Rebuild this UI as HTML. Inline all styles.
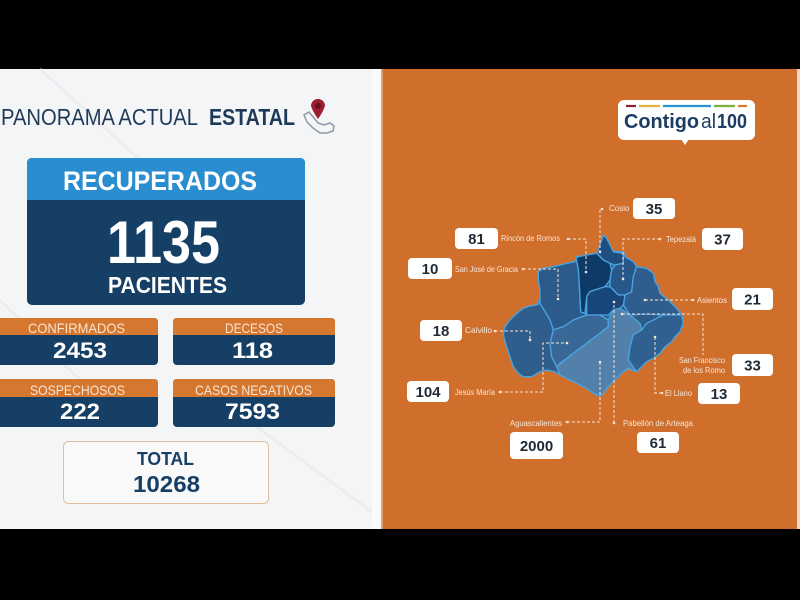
<!DOCTYPE html>
<html><head><meta charset="utf-8"><style>
html,body{margin:0;padding:0;background:#000;}
svg{display:block;}
text{font-family:"Liberation Sans",sans-serif;}
</style></head><body>
<svg width="800" height="600" viewBox="0 0 800 600" xmlns="http://www.w3.org/2000/svg">
<rect x="0" y="0" width="800" height="600" fill="#000"/>
<!-- left panel -->
<rect x="0" y="69" width="383" height="460" fill="#f4f5f7"/>
<g stroke="#e6e8eb" stroke-width="3" opacity="0.6">
<line x1="40" y1="69" x2="140" y2="160"/>
<line x1="0" y1="300" x2="120" y2="420"/>
<line x1="220" y1="400" x2="383" y2="520"/>
</g>
<rect x="372" y="69" width="9" height="460" fill="#fafafb"/>
<rect x="381" y="69" width="2" height="460" fill="#e3a06a"/>
<!-- right panel -->
<rect x="383" y="69" width="414" height="460" fill="#d06f2c"/>
<rect x="797" y="69" width="3" height="460" fill="#e9d9c8"/>

<!-- title -->
<text x="1" y="125" font-size="23" fill="#1f3a58" textLength="197" lengthAdjust="spacingAndGlyphs">PANORAMA ACTUAL</text>
<text x="209" y="125" font-size="23" font-weight="bold" fill="#1f3a58" textLength="86" lengthAdjust="spacingAndGlyphs">ESTATAL</text>
<!-- pin icon -->
<path d="M304,115 L309,112 L314,118 L318,123 L324,125 L330,123 L334,126 L333,131 L327,133 L320,133 L313,128 L307,122 Z" fill="none" stroke="#8c99a6" stroke-width="1.5"/>
<path d="M311,106 A7,7 0 1 1 325,106 Q323,112 318,119 Q313,112 311,106 Z" fill="#9b1f2f"/>
<circle cx="318" cy="106" r="3" fill="#6a0f1d"/>

<!-- RECUPERADOS -->
<rect x="27" y="158" width="278" height="147" rx="5" fill="#163f66"/>
<path d="M27,200 L27,163 Q27,158 32,158 L300,158 Q305,158 305,163 L305,200 Z" fill="#2a8dcf"/>
<text x="63" y="190" font-size="27" font-weight="bold" fill="#fff" textLength="194" lengthAdjust="spacingAndGlyphs">RECUPERADOS</text>
<text x="107" y="263" font-size="60" font-weight="bold" fill="#fff" textLength="113" lengthAdjust="spacingAndGlyphs">1135</text>
<text x="108" y="293" font-size="23" font-weight="bold" fill="#fff" textLength="119" lengthAdjust="spacingAndGlyphs">PACIENTES</text>

<!-- small boxes -->
<g>
<rect x="-5" y="318" width="163" height="47" rx="4" fill="#163f66"/>
<path d="M-5,335 L-5,322 Q-5,318 -1,318 L154,318 Q158,318 158,322 L158,335 Z" fill="#d5772f"/>
<text x="28" y="333" font-size="14" fill="#f8e4d2" textLength="97" lengthAdjust="spacingAndGlyphs">CONFIRMADOS</text>
<text x="53" y="358" font-size="22" font-weight="bold" fill="#fff" textLength="54" lengthAdjust="spacingAndGlyphs">2453</text>

<rect x="173" y="318" width="162" height="47" rx="4" fill="#163f66"/>
<path d="M173,335 L173,322 Q173,318 177,318 L331,318 Q335,318 335,322 L335,335 Z" fill="#d5772f"/>
<text x="225" y="333" font-size="14" fill="#f8e4d2" textLength="58" lengthAdjust="spacingAndGlyphs">DECESOS</text>
<text x="232" y="358" font-size="22" font-weight="bold" fill="#fff" textLength="41" lengthAdjust="spacingAndGlyphs">118</text>

<rect x="-5" y="379" width="163" height="48" rx="4" fill="#163f66"/>
<path d="M-5,397 L-5,383 Q-5,379 -1,379 L154,379 Q158,379 158,383 L158,397 Z" fill="#d5772f"/>
<text x="30" y="395" font-size="14" fill="#f8e4d2" textLength="95" lengthAdjust="spacingAndGlyphs">SOSPECHOSOS</text>
<text x="60" y="419" font-size="22" font-weight="bold" fill="#fff" textLength="40" lengthAdjust="spacingAndGlyphs">222</text>

<rect x="173" y="379" width="162" height="48" rx="4" fill="#163f66"/>
<path d="M173,397 L173,383 Q173,379 177,379 L331,379 Q335,379 335,383 L335,397 Z" fill="#d5772f"/>
<text x="195" y="395" font-size="14" fill="#f8e4d2" textLength="117" lengthAdjust="spacingAndGlyphs">CASOS NEGATIVOS</text>
<text x="225" y="419" font-size="22" font-weight="bold" fill="#fff" textLength="55" lengthAdjust="spacingAndGlyphs">7593</text>
</g>

<!-- TOTAL -->
<rect x="63.5" y="441.5" width="205" height="62" rx="5" fill="#f9f9fa" stroke="#e2bf9c" stroke-width="1"/>
<text x="137" y="465" font-size="18" font-weight="bold" fill="#163f66" textLength="57" lengthAdjust="spacingAndGlyphs">TOTAL</text>
<text x="133" y="492" font-size="23" font-weight="bold" fill="#163f66" textLength="67" lengthAdjust="spacingAndGlyphs">10268</text>

<!-- Contigo badge -->
<rect x="618" y="100" width="137" height="40" rx="6" fill="#fff"/>
<path d="M681,139 L689,139 L685,145 Z" fill="#fff"/>
<g stroke-width="2.2">
<line x1="626" y1="106" x2="636" y2="106" stroke="#8e2230"/>
<line x1="639" y1="106" x2="660" y2="106" stroke="#e0b43c"/>
<line x1="663" y1="106" x2="711" y2="106" stroke="#2b95d3"/>
<line x1="714" y1="106" x2="735" y2="106" stroke="#7ab03e"/>
<line x1="738" y1="106" x2="747" y2="106" stroke="#d9772f"/>
</g>
<text x="624" y="128" font-size="20" font-weight="bold" fill="#1b3d63" textLength="75" lengthAdjust="spacingAndGlyphs">Contigo</text>
<text x="701" y="128" font-size="20" fill="#1b3d63" textLength="15" lengthAdjust="spacingAndGlyphs">al</text>
<text x="717" y="128" font-size="20" font-weight="bold" fill="#1b3d63" textLength="30" lengthAdjust="spacingAndGlyphs">100</text>

<!-- MAP -->
<g transform="translate(490,220) scale(0.33333)" stroke="#4aa3de" stroke-width="4" stroke-linejoin="round">
<path fill="#2e5b88" d="M340,45 L350,55 L360,75 L370,95 L400,95 L405,110 L430,125 L440,140 L470,145 L490,160 L495,185 L505,200 L510,220 L540,245 L560,265 L575,285 L580,310 L570,335 L555,350 L545,365 L525,380 L510,400 L490,415 L470,425 L455,440 L440,455 L415,445 L400,455 L385,470 L365,490 L350,505 L340,520 L330,528 L310,520 L290,505 L260,490 L230,475 L210,465 L195,455 L170,450 L150,455 L125,470 L100,470 L85,460 L70,440 L60,410 L50,380 L40,345 L45,320 L60,300 L80,280 L100,265 L120,258 L140,255 L150,235 L150,210 L145,180 L145,155 L160,145 L190,140 L230,130 L255,125 L260,110 L290,105 L320,100 L330,75 Z"/>
<path fill="#1f4f80" d="M320,100 L330,75 L340,45 L350,55 L360,75 L370,95 L400,100 L400,130 L375,135 L360,130 L340,120 Z"/>
<path fill="#0e3a68" d="M258,112 L290,105 L320,100 L340,120 L360,130 L365,150 L360,180 L345,200 L300,215 L290,230 L285,280 L272,276 L268,200 L265,150 Z"/>
<path fill="#285889" d="M370,95 L400,95 L405,110 L430,125 L440,140 L430,170 L425,215 L405,225 L385,225 L360,200 L360,180 L365,150 L375,135 L400,130 L400,100 Z"/>
<path fill="#2f5e8e" d="M440,140 L470,145 L490,160 L495,185 L505,200 L510,220 L540,245 L560,265 L575,285 L520,285 L470,282 L420,285 L400,255 L405,225 L425,215 L430,170 Z"/>
<path fill="#17477a" d="M290,230 L300,215 L345,200 L360,200 L385,225 L405,225 L400,255 L390,265 L370,270 L355,285 L330,285 L290,285 Z"/>
<path fill="#2c5a8a" d="M145,155 L160,145 L190,140 L230,130 L255,125 L258,112 L265,150 L268,200 L272,276 L285,280 L290,285 L250,300 L220,320 L190,330 L180,300 L150,250 L150,210 L145,180 Z"/>
<path fill="#2f5d8c" d="M40,345 L45,320 L60,300 L80,280 L100,265 L120,258 L140,255 L150,250 L180,300 L190,330 L180,370 L185,410 L200,440 L210,465 L195,455 L170,450 L150,455 L125,470 L100,470 L85,460 L70,440 L60,410 L50,380 Z"/>
<path fill="#3a6896" d="M190,330 L220,320 L250,300 L290,285 L330,285 L355,300 L355,320 L330,340 L290,370 L250,400 L210,430 L200,440 L185,410 L180,370 Z"/>
<path fill="#5280ab" d="M200,440 L250,400 L290,370 L330,340 L355,320 L355,300 L370,270 L390,265 L420,285 L450,310 L455,330 L430,345 L420,380 L415,420 L440,455 L415,445 L400,455 L385,470 L365,490 L350,505 L340,520 L330,528 L310,520 L290,505 L260,490 L230,475 L210,465 Z"/>
<path fill="#30608f" d="M415,420 L420,380 L430,345 L455,330 L470,310 L520,285 L575,285 L580,310 L570,335 L555,350 L545,365 L525,380 L510,400 L490,415 L470,425 L455,440 L440,455 Z"/>
</g>

<!-- dotted leader lines -->
<g stroke="#f5e3d2" stroke-width="1" stroke-dasharray="3,2" fill="none">
<polyline points="600,210 600,252"/>
<polyline points="568,239 586,239 586,272"/>
<polyline points="660,239 623,239 623,279"/>
<polyline points="523,269 558,269 558,299"/>
<polyline points="693,300 645,300"/>
<polyline points="495,331 530,331 530,340"/>
<polyline points="622,314 703,314 703,355"/>
<polyline points="500,392 543,392 543,343 567,343"/>
<polyline points="662,393 655,393 655,337"/>
<polyline points="567,422 600,422 600,362"/>
<polyline points="614,423 614,302"/>
</g>
<g fill="#f5e3d2">
<circle cx="602" cy="209" r="1.3"/><circle cx="568" cy="239" r="1.3"/><circle cx="660" cy="239" r="1.3"/>
<circle cx="523" cy="269" r="1.3"/><circle cx="693" cy="300" r="1.3"/><circle cx="495" cy="331" r="1.3"/>
<circle cx="500" cy="392" r="1.3"/><circle cx="662" cy="393" r="1.3"/><circle cx="567" cy="422" r="1.3"/>
<circle cx="614" cy="423" r="1.3"/>
<circle cx="600" cy="252" r="1.3"/><circle cx="586" cy="272" r="1.3"/><circle cx="623" cy="279" r="1.3"/>
<circle cx="558" cy="299" r="1.3"/><circle cx="645" cy="300" r="1.3"/><circle cx="530" cy="340" r="1.3"/>
<circle cx="622" cy="314" r="1.3"/><circle cx="567" cy="343" r="1.3"/><circle cx="655" cy="337" r="1.3"/>
<circle cx="600" cy="362" r="1.3"/><circle cx="614" cy="302" r="1.3"/>
</g>

<!-- labels -->
<g font-size="8" fill="#f7e6d6">
<text x="609" y="211">Cosio</text>
<text x="501" y="241" textLength="59" lengthAdjust="spacingAndGlyphs">Rincón de Romos</text>
<text x="666" y="242" textLength="30" lengthAdjust="spacingAndGlyphs">Tepezalá</text>
<text x="455" y="272" textLength="63" lengthAdjust="spacingAndGlyphs">San José de Gracia</text>
<text x="697" y="303" textLength="30" lengthAdjust="spacingAndGlyphs">Asientos</text>
<text x="465" y="333" textLength="27" lengthAdjust="spacingAndGlyphs">Calvillo</text>
<text x="679" y="363" textLength="46" lengthAdjust="spacingAndGlyphs">San Francisco</text>
<text x="683" y="373" textLength="42" lengthAdjust="spacingAndGlyphs">de los Romo</text>
<text x="455" y="395" textLength="40" lengthAdjust="spacingAndGlyphs">Jesús María</text>
<text x="665" y="396" textLength="27" lengthAdjust="spacingAndGlyphs">El Llano</text>
<text x="510" y="426" textLength="52" lengthAdjust="spacingAndGlyphs">Aguascalientes</text>
<text x="623" y="426" textLength="70" lengthAdjust="spacingAndGlyphs">Pabellón de Arteaga</text>
</g>

<!-- number boxes -->
<g fill="#ffffff">
<rect x="633" y="198" width="42" height="21" rx="4"/>
<rect x="455" y="228" width="43" height="21" rx="4"/>
<rect x="702" y="228" width="41" height="22" rx="4"/>
<rect x="408" y="258" width="44" height="21" rx="4"/>
<rect x="732" y="288" width="41" height="22" rx="4"/>
<rect x="420" y="320" width="42" height="21" rx="4"/>
<rect x="732" y="354" width="41" height="22" rx="4"/>
<rect x="407" y="381" width="42" height="21" rx="4"/>
<rect x="698" y="383" width="42" height="21" rx="4"/>
<rect x="510" y="432" width="53" height="27" rx="4"/>
<rect x="637" y="432" width="42" height="21" rx="4"/>
</g>
<g font-size="15" font-weight="bold" fill="#1e2a36" text-anchor="middle">
<text x="654" y="214">35</text>
<text x="476.5" y="244">81</text>
<text x="722.5" y="244.5">37</text>
<text x="430" y="274">10</text>
<text x="752.5" y="304.5">21</text>
<text x="441" y="336">18</text>
<text x="752.5" y="370.5">33</text>
<text x="428" y="397">104</text>
<text x="719" y="399">13</text>
<text x="536.5" y="451">2000</text>
<text x="658" y="448">61</text>
</g>
</svg>
</body></html>
